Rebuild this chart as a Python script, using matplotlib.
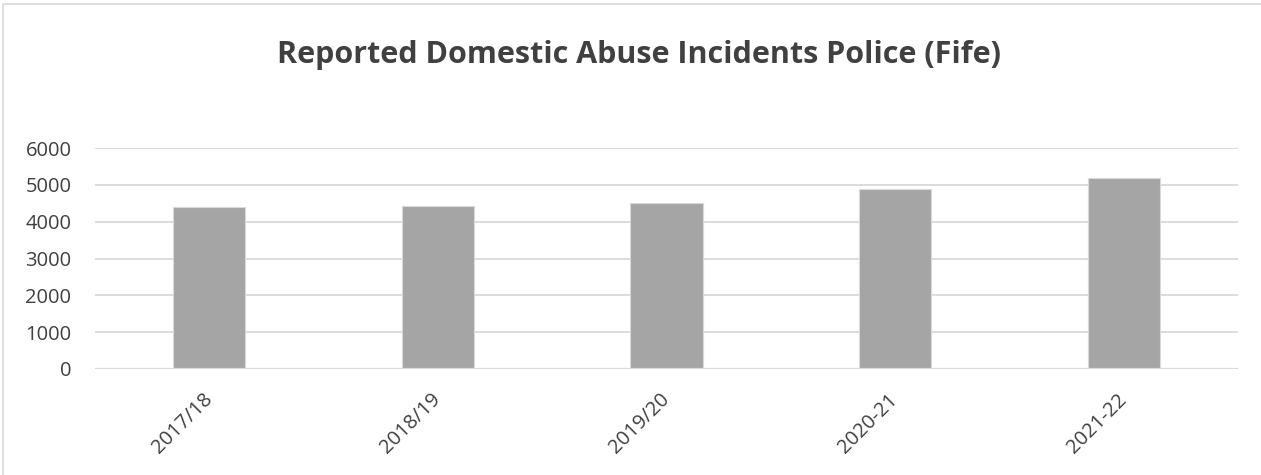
import matplotlib.pyplot as plt
from matplotlib.patches import Rectangle

# Police-reported domestic abuse incidents in Fife
years = ["2017/18", "2018/19", "2019/20", "2020-21", "2021-22"]
incidents = [4410, 4430, 4520, 4900, 5175]

plt.rcParams["font.family"] = ["Open Sans", "DejaVu Sans"]

fig = plt.figure(figsize=(12.61, 4.75), dpi=100)
ax = fig.add_axes([95 / 1261, 1 - 369 / 475, (1238 - 95) / 1261, (369 - 148) / 475])

ax.bar(range(len(years)), incidents, width=0.315, color="#a5a5a5",
       edgecolor="#d9d9d9", linewidth=0.8, zorder=3)

ax.set_xlim(-0.5, len(years) - 0.5)
ax.set_ylim(0, 6000)
ax.set_yticks(range(0, 6001, 1000))
ax.yaxis.grid(True, color="#d9d9d9", linewidth=1.3, zorder=0)
ax.set_axisbelow(True)
for s in ax.spines.values():
    s.set_visible(False)
ax.axhline(0, color="#d9d9d9", linewidth=1.6, zorder=4)
ax.tick_params(axis="y", length=0, labelsize=14.5, colors="#404040", pad=17)
ax.tick_params(axis="x", length=0, labelsize=14.5, colors="#404040", pad=20)
ax.set_xticks(range(len(years)))
ax.set_xticklabels(years, rotation=45, ha="right", va="center",
                   rotation_mode="anchor")

fig.text(0.507, 1 - 55 / 475, "Reported Domestic Abuse Incidents Police (Fife)",
         ha="center", va="center", fontsize=22, fontweight="bold", color="#404040")

# outer chart frame
fig.patches.append(Rectangle((3 / 1261, -0.01), 1.05, 1 - 4 / 475 + 0.01,
                             transform=fig.transFigure, fill=False,
                             edgecolor="#d9d9d9", linewidth=1.2))

fig.savefig("out.png", dpi=100)
